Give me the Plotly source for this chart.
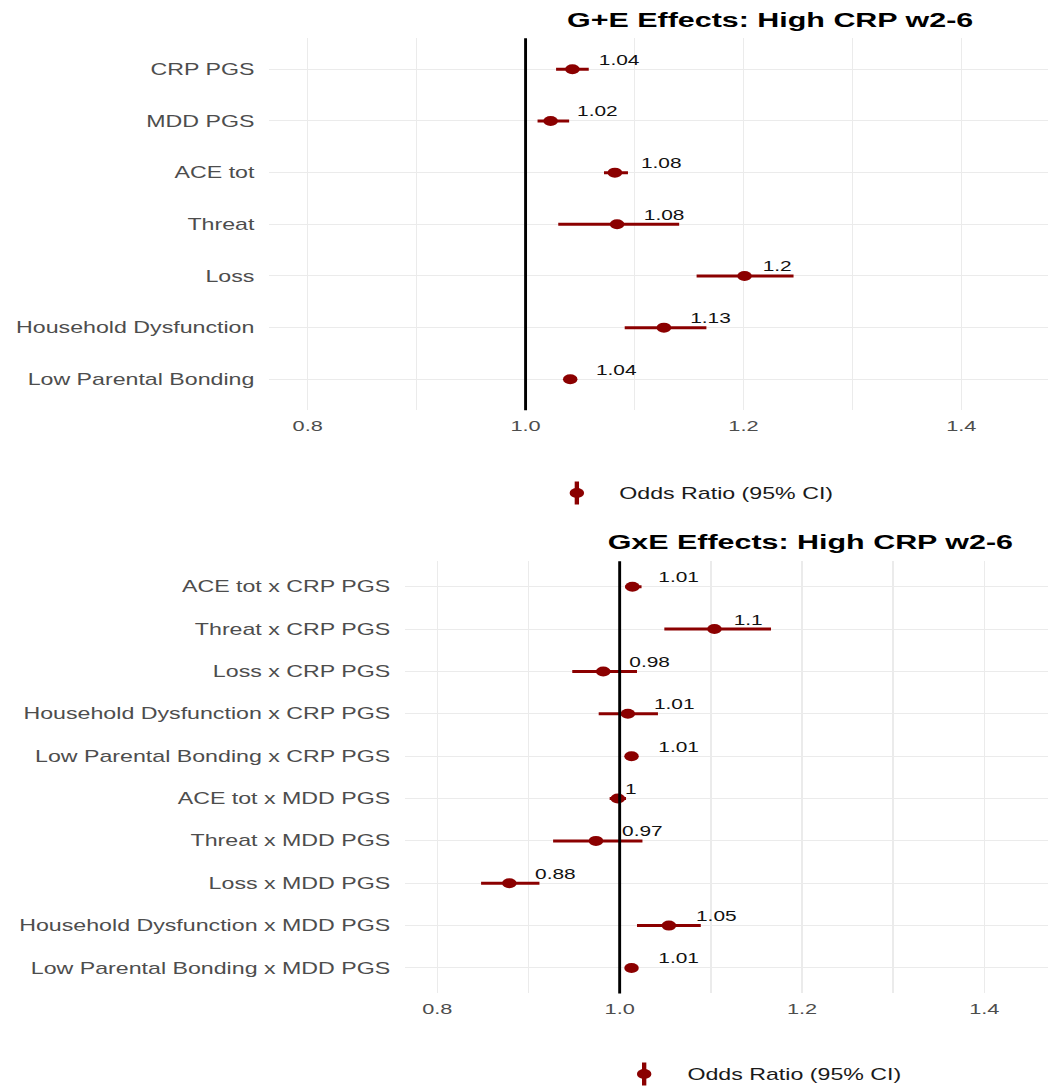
import plotly.graph_objects as go

# ---- G+E main effects ----
ge_terms = ["CRP PGS", "MDD PGS", "ACE tot", "Threat", "Loss",
            "Household Dysfunction", "Low Parental Bonding"]
ge_or = [1.043, 1.023, 1.082, 1.084, 1.201, 1.127, 1.041]
ge_lo = [1.028, 1.011, 1.072, 1.030, 1.157, 1.091, 1.036]
ge_hi = [1.058, 1.040, 1.094, 1.141, 1.246, 1.166, 1.046]

# ---- GxE interaction effects ----
gxe_terms = ["ACE tot x CRP PGS", "Threat x CRP PGS", "Loss x CRP PGS",
             "Household Dysfunction x CRP PGS", "Low Parental Bonding x CRP PGS",
             "ACE tot x MDD PGS", "Threat x MDD PGS", "Loss x MDD PGS",
             "Household Dysfunction x MDD PGS", "Low Parental Bonding x MDD PGS"]
gxe_or = [1.014, 1.104, 0.982, 1.009, 1.013, 0.998, 0.974, 0.879, 1.054, 1.013]
gxe_lo = [1.006, 1.049, 0.948, 0.977, 1.008, 0.989, 0.927, 0.848, 1.019, 1.008]
gxe_hi = [1.024, 1.166, 1.019, 1.042, 1.018, 1.007, 1.025, 0.912, 1.089, 1.018]

x_ticks = [0.8, 1.0, 1.2, 1.4]

# ---- styling ----
FONT = "Liberation Sans, Arial, Helvetica, sans-serif"
RED = "#8B0000"
GRID = "#EBEBEB"
TICK_GREY = "#4D4D4D"
STRETCH = 1.45              # horizontal stretch applied to the whole graphic
W, H = 1048 / STRETCH, 1086
LABEL_SIZE = 14.4


def fmt(v):
    return f"{round(v, 2):g}"


def text_width(s, size):
    widths = {".": 0.278, "-": 0.333}
    return sum(widths.get(c, 0.556) for c in s) * size


fig = go.Figure()
annotations = []
shapes = []

panels = [
    (ge_terms, ge_or, ge_lo, ge_hi, "x", "y"),
    (gxe_terms, gxe_or, gxe_lo, gxe_hi, "x2", "y2"),
]

for terms, orv, lo, hi, xa, ya in panels:
    idx = list(range(len(terms)))
    fig.add_trace(go.Scatter(
        x=orv, y=idx, mode="markers", xaxis=xa, yaxis=ya,
        marker=dict(size=10, color=RED),
        error_x=dict(type="data", symmetric=False,
                     array=[h - o for h, o in zip(hi, orv)],
                     arrayminus=[o - l for o, l in zip(orv, lo)],
                     color=RED, thickness=3, width=0),
        showlegend=False, cliponaxis=False, hoverinfo="skip",
    ))
    for o, i in zip(orv, idx):
        t = fmt(o)
        annotations.append(dict(
            x=o, y=i, xref=xa, yref=ya, text=t, showarrow=False,
            xanchor="center", yanchor="middle",
            xshift=1.15 * text_width(t, LABEL_SIZE), yshift=9.5,
            font=dict(family=FONT, size=LABEL_SIZE, color="#111111"),
        ))
    # reference line at OR = 1
    shapes.append(dict(type="line", xref=xa, yref=f"{ya} domain",
                       x0=1, x1=1, y0=0, y1=1, layer="above",
                       line=dict(color="black", width=2)))


def xaxis_cfg(domain, rng, anchor):
    return dict(domain=domain, range=rng, anchor=anchor,
                tickvals=x_ticks, ticktext=[f"{v:.1f}" for v in x_ticks],
                showgrid=True, gridcolor=GRID, gridwidth=1,
                minor=dict(dtick=0.1, tick0=0.8, showgrid=True,
                           gridcolor=GRID, gridwidth=1),
                zeroline=False, showline=False, ticks="",
                ticklabelstandoff=5, automargin=False,
                tickfont=dict(family=FONT, size=15, color=TICK_GREY))


def yaxis_cfg(domain, terms, anchor):
    n = len(terms)
    return dict(domain=domain, range=[n - 0.4, -0.6], anchor=anchor,
                tickvals=list(range(n)), ticktext=terms,
                showgrid=True, gridcolor=GRID, gridwidth=1,
                zeroline=False, showline=False, ticks="",
                ticklabelstandoff=9, automargin=False,
                tickfont=dict(family=FONT, size=16, color=TICK_GREY))


fig.update_layout(
    xaxis=xaxis_cfg([185.4 / W, 1], [0.7644, 1.4799], "y"),
    yaxis=yaxis_cfg([1 - 410.3 / H, 1 - 38.3 / H], ge_terms, "x"),
    xaxis2=xaxis_cfg([279.0 / W, 1], [0.7642, 1.4702], "y2"),
    yaxis2=yaxis_cfg([1 - 993.4 / H, 1 - 561.3 / H], gxe_terms, "x2"),
)

# panel titles
for title, xc, yc in [("G+E Effects: High CRP w2-6", 530.7, 20),
                      ("GxE Effects: High CRP w2-6", 559.3, 541.5)]:
    annotations.append(dict(
        x=xc / W, y=1 - yc / H, xref="paper", yref="paper", text=f"<b>{title}</b>",
        showarrow=False, xanchor="center", yanchor="middle",
        font=dict(family=FONT, size=21, color="black")))

# legend keys: point-range glyph with label
for kx, ky, tx in [(397.7, 493, 424.7), (444.1, 1074, 471.7)]:
    shapes.append(dict(type="line", xref="paper", yref="paper",
                       x0=kx / W, x1=kx / W, y0=1 - (ky - 11.5) / H, y1=1 - (ky + 11.5) / H,
                       line=dict(color=RED, width=3)))
    shapes.append(dict(type="circle", xref="paper", yref="paper",
                       xsizemode="pixel", ysizemode="pixel",
                       xanchor=kx / W, yanchor=1 - ky / H,
                       x0=-5, x1=5, y0=-5, y1=5,
                       fillcolor=RED, line=dict(color=RED, width=0)))
    annotations.append(dict(
        x=tx / W, y=1 - ky / H, xref="paper", yref="paper", text="Odds Ratio (95% CI)",
        showarrow=False, xanchor="left", yanchor="middle",
        font=dict(family=FONT, size=16, color="#1A1A1A")))

fig.update_layout(
    width=W, height=H, autosize=False,
    margin=dict(l=0, r=0, t=0, b=0),
    paper_bgcolor="white", plot_bgcolor="white",
    showlegend=False,
    annotations=annotations, shapes=shapes,
)

stretch_js = """
var gd = document.getElementById('{plot_id}');
document.body.style.margin = '0';
gd.style.transformOrigin = '0 0';
gd.style.transform = 'scaleX(%s)';
""" % STRETCH

fig.write_html("out.html", config={"displayModeBar": False}, post_script=stretch_js)
